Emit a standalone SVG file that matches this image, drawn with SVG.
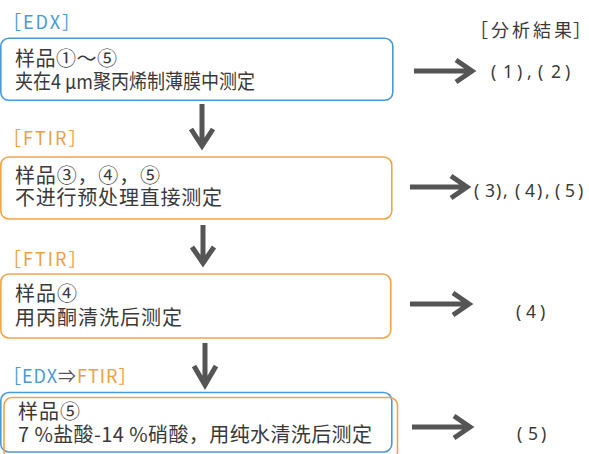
<svg xmlns="http://www.w3.org/2000/svg" width="589" height="454" viewBox="0 0 589 454">
<defs>
<style>
.t{font-family:"Noto Sans CJK SC","Noto Sans",sans-serif;fill:#3a3a3a;font-size:20px}
.lb{font-family:"Noto Sans CJK SC","Noto Sans",sans-serif;font-size:18px;letter-spacing:2px}
.r{font-family:"Noto Sans","Noto Sans CJK JP",sans-serif;fill:#3a3a3a;font-size:17.5px}
.blue{fill:#4a9ad6}
.org{fill:#f0a040}
.gray{fill:#555}
.bb{fill:none;stroke:#4a9ad6;stroke-width:1.6}
.ob{fill:none;stroke:#f2a548;stroke-width:1.6}
.ar{fill:none;stroke:#555;stroke-width:5}
</style>
</defs>
<rect width="589" height="454" fill="#fff"/>
<g id="node1">
<text class="lb blue" x="3" y="29">［EDX］</text>
<rect class="bb" x="0.8" y="38.3" width="392" height="62" rx="8"/>
<text class="t" x="15" y="65.5" textLength="102" lengthAdjust="spacing">样品①～⑤</text>
<text class="t" x="15" y="88.5" textLength="240" lengthAdjust="spacingAndGlyphs">夹在4 μm聚丙烯制薄膜中测定</text>
</g>
<g id="node2">
<text class="lb org" x="3" y="145">［FTIR］</text>
<rect class="ob" x="0.8" y="157" width="391" height="62" rx="8"/>
<text class="t" x="15" y="182.5" textLength="145" lengthAdjust="spacing">样品③，④，⑤</text>
<text class="t" x="15" y="205" textLength="207" lengthAdjust="spacing">不进行预处理直接测定</text>
</g>
<g id="node3">
<text class="lb org" x="3" y="266">［FTIR］</text>
<rect class="ob" x="0.8" y="274" width="390" height="64" rx="8"/>
<text class="t" x="15" y="301" textLength="62" lengthAdjust="spacing">样品④</text>
<text class="t" x="15" y="324.5" textLength="167" lengthAdjust="spacing">用丙酮清洗后测定</text>
</g>
<g id="node4">
<text class="lb" x="3" y="383" style="letter-spacing:1px"><tspan class="blue">［EDX</tspan><tspan class="gray">⇒</tspan><tspan class="org">FTIR］</tspan></text>
<rect class="bb" x="0.8" y="392.5" width="391" height="59.5" rx="8"/>
<rect class="ob" x="4" y="397.5" width="393.5" height="62" rx="8"/>
<text class="t" x="18" y="418.5" textLength="62" lengthAdjust="spacing">样品⑤</text>
<text class="t" x="18" y="441.5" textLength="354" lengthAdjust="spacing">7 %盐酸-14 %硝酸，用纯水清洗后测定</text>
</g>
<g id="results">
<text class="r" x="470 491 512 533 554 573" y="37" style="font-family:'Noto Sans CJK JP',sans-serif;font-size:18px">［分析結果］</text>
<text class="r" x="491 503 517 527 538 551 565" y="78">(1),(2)</text>
<text class="r" x="474 485 496 503 515 525 537 545 555 565 578" y="197">(3),(4),(5)</text>
<text class="r" x="516 526 540" y="318">(4)</text>
<text class="r" x="517 528 541" y="440">(5)</text>
</g>
<g id="connectors">
<path class="ar" d="M202,104 V146 M191,129 L202,146 L213,129"/>
<path class="ar" d="M203,225 V263 M192,247 L203,263 L214,247"/>
<path class="ar" d="M205,343 V385 M194,366 L205,385 L216,366"/>
<path class="ar" d="M414,71 H471 M456,60 L472,71 L456,82"/>
<path class="ar" d="M410,187 H466 M451,176 L467,187 L451,198"/>
<path class="ar" d="M410,304 H468 M453,293 L469,304 L453,315"/>
<path class="ar" d="M412,427 H469 M454,416 L470,427 L454,438"/>
</g>
</svg>
